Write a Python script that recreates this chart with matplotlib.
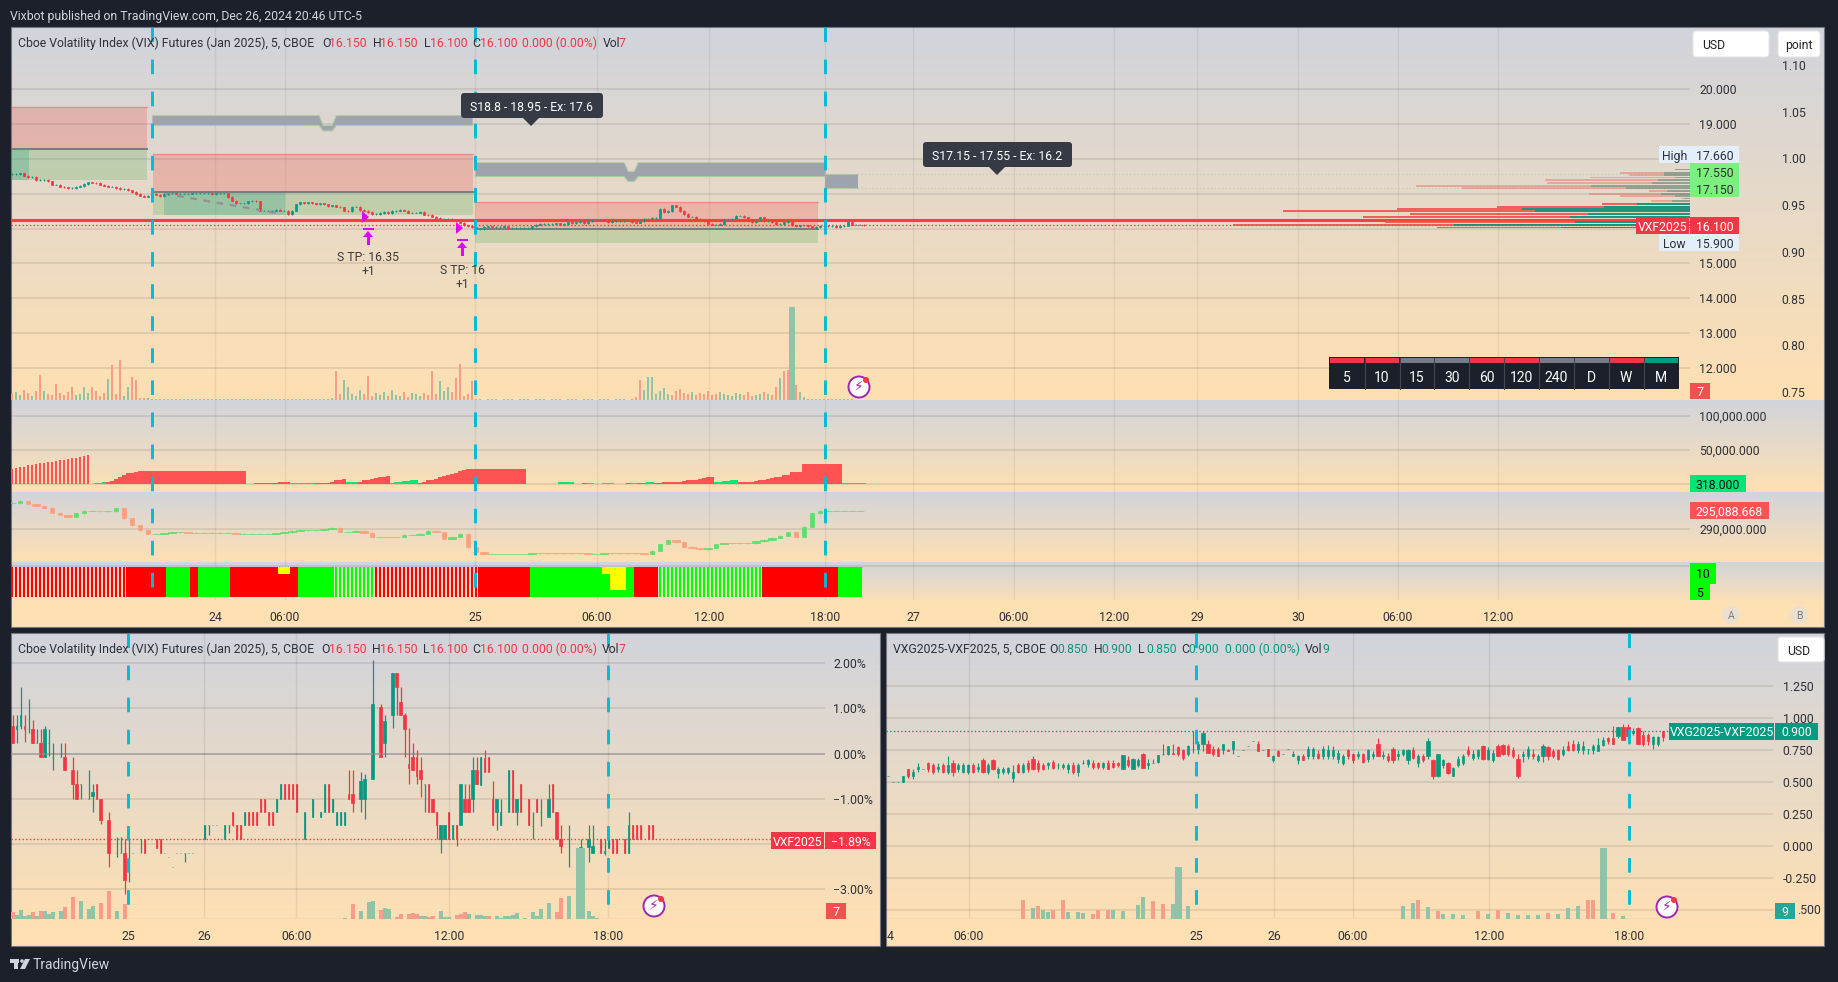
import matplotlib
matplotlib.use('Agg')
import matplotlib.pyplot as plt
import numpy as np
from matplotlib.colors import LinearSegmentedColormap
from matplotlib.patches import Rectangle, FancyBboxPatch, Polygon, Circle
from matplotlib.ticker import FuncFormatter

plt.rcParams['font.family'] = ['Roboto', 'DejaVu Sans']

W, H = 1838, 982
UP = '#089981'
DOWN = '#f23645'
DARK = '#1c202b'
TXT = '#2f3138'
CYAN = '#00bcd4'
VOL_UP = '#8fc4a8'
VOL_DOWN = '#f79e8a'

# main chart, one value every 4 px
main_close = [17.56,17.56,17.58,17.51,17.47,17.47,17.39,17.39,17.39,17.35,17.26,17.26,17.2,17.18,17.16,17.16,17.2,17.22,17.28,17.32,
    17.31,17.3,17.26,17.23,17.2,17.2,17.16,17.13,17.13,17.09,17.04,16.99,16.94,16.91,16.94,16.99,16.97,16.93,16.99,17.01,
    17.01,17.0,17.0,17.0,17.0,17.01,17.01,17.01,17.01,17.01,16.99,17.01,17.01,17.01,16.9,16.8,16.72,16.72,16.72,16.78,
    16.8,16.78,16.51,16.51,16.51,16.51,16.53,16.51,16.51,16.42,16.51,16.69,16.75,16.72,16.75,16.72,16.7,16.72,16.69,16.65,
    16.66,16.63,16.61,16.51,16.5,16.63,16.63,16.53,16.51,16.47,16.42,16.42,16.44,16.47,16.44,16.5,16.51,16.53,16.51,16.45,
    16.45,16.45,16.47,16.4,16.39,16.34,16.3,16.28,16.28,16.28,16.26,16.21,16.17,16.09,16.07,16.04,15.99,
    15.99,16.04,16.06,16.04,16.04,16.04,16.06,16.02,16.02,16.02,16.02,16.02,16.02,16.06,16.11,16.13,16.13,16.13,16.13,16.15,
    16.11,16.13,16.18,16.15,16.18,16.21,16.15,16.21,16.25,16.25,16.26,16.23,16.18,16.21,16.21,16.21,16.23,16.23,16.18,16.17,
    16.21,16.28,16.28,16.3,16.3,16.56,16.47,16.5,16.66,16.63,16.5,16.42,16.34,16.34,16.28,16.25,16.21,16.13,16.11,16.11,
    16.13,16.25,16.25,16.28,16.37,16.37,16.32,16.25,16.18,16.23,16.32,16.21,16.21,16.18,16.13,16.13,16.18,16.21,16.09,16.07,
    16.09,16.09,16.06,16.02,16.04,16.08,16.07,16.06,16.07,16.04,16.06,16.08,16.18,16.11,16.11,16.11,16.1]

main_volume = [60,80,50,100,70,40,90,250,90,60,50,160,70,50,80,130,50,60,130,70,130,90,40,70,210,350,60,400,40,130,230,200,20,20,20,
    8,10,6,8,10,6,8,6,10,8,6,8,10,6,8,10,8,6,8,10,8,6,8,6,10,8,12,6,8,10,6,10,8,12,6,8,14,6,10,8,12,8,6,10,14,20,
    290,60,200,130,60,40,100,60,240,40,70,50,80,40,100,50,40,80,30,70,60,40,70,50,290,60,190,90,130,80,220,360,40,60,190,
    6,8,5,6,8,6,5,8,6,8,5,6,8,6,5,8,6,8,5,6,8,6,5,8,6,8,5,6,8,6,5,8,6,8,5,6,8,6,5,10,30,
    200,100,230,230,60,90,120,60,50,90,110,70,60,80,50,70,60,90,50,60,80,60,50,40,70,60,50,80,40,50,60,80,60,50,130,220,290,300,930,150,80,30,
    10,10,12,8,10,8,10,12,10,8,6,7]
main_volume_red = [0,3,7,11,15,25,27,30,31,81,89,105,111,112,115,157,165,176,185]
main_volume_green = [24,29,83,84,87,107,109,158,159,160,163]

delta_bars = [23,24,25,26,28,28,30,31,31,32,32,34,35,36,37,38,39,40,42,43,-1,-2,-2,-3,4,5,8,10,14,16,17,18,19,19,19,
    19.6,19.6,19.6,19.6,19.6,19.6,19.6,19.6,19.6,19.6,19.6,19.6,19.6,19.6,19.6,19.6,19.6,19.6,19.6,19.6,19.6,19.6,19.6,19.6,
    .5,1,2,2,2,2,2,2,3,3,4,-2,-2,-2,-2,-2,-2,2,2,2,2,3,6,7,8,-3,-3,-3,4,6,7,8,9,10,11,12,-2,-3,-4,-5,-5,-6,-6,
    2,4,6,7,8,10,12,14,15,17,20,21,22.5,22.5,22.5,22.5,22.5,22.5,22.5,22.5,22.5,22.5,22.5,22.5,22.5,22.5,22.5,
    1,1,1,1,1,1,1,1,-3,-3,-3,-3,1,1,2,-2,-2,1,1,-2,-2,-2,1,1,1,2,-2,-2,2,2,-3,-3,2,2,3,3,3,3,4,5,6,6,7,8,9,10,11,
    -3,-4,-5,-5,-6,-6,3,3,4,4,5,6,7,8,9,10,11,13,13,18,18,18,30,30,30,30,30,30,30,30,30,30,-2,-2,-2,-2,-2,-2]

flow_close = [296.9,297.6,296.7,296.3,295.7,294.4,293.7,293.2,294.2,294.9,294.9,294.7,294.7,295.6,292.8,290.9,289.5,288.6,288.6,288.8,
    289,289,288.9,288.9,288.9,288.9,288.9,288.9,288.6,288.6,288.6,288.6,288.6,288.8,289,289.4,289.5,289.5,289.5,289.9,
    290.3,289.1,289.1,289.4,288.9,287.7,287.7,287.7,287.7,288.4,288.4,288.6,289.4,289.1,287.2,287.7,288.6,284.9,283.5,283.1,
    283.1,283.1,283.1,283.1,283.1,283.3,283.3,283.3,283.3,283.3,283.3,283.3,283.1,283.1,283.3,283.3,283.3,283.3,283.3,283.1,
    284,285.8,286.8,286.3,285.1,284.7,284.4,284.7,285.8,286,286,286,286,286.5,287,287.5,288.1,289.1,287.7,290.5,294.2,294.9,
    294.9,294.9,294.9,294.9,294.9]

# runs of the 10/5 state strip: kind, number of bars
state_runs = [('r',29),('R',10),('G',6),('R',2),('G',8),('R',12),('A',3),('R',2),('G',9),('g',10),('r',26),('R',13),
              ('G',18),('B',2),('C',4),('G',2),('R',6),('g',26),('R',19),('G',6)]

# volume profile: price, total, buy part
profile_price = [17.69,17.59,17.53,17.46,17.39,17.31,17.23,17.15,17.07,17.0,16.93,16.86,16.78,16.7,16.62,16.55,16.49,16.41,16.32,16.19,16.1,16.03]
profile_total = [15,70,61,100,145,143,274,228,41,101,70,9,39,88,193,293,407,280,327,305,457,253]
profile_buy = [15,26,26,15,32,38,99,64,23,29,15,6,18,53,86,168,155,102,120,115,236,129]

zone_red = [(-.35,33.75,18.27,19.49),(35.25,115.25,17.04,18.12),(115.75,201.5,15.98,16.75)]
zone_green = [(-.35,33.75,17.38,18.27),(35.25,115.25,16.38,17.04),(115.75,201.5,15.58,15.98)]
zone_green_dark = [(-.35,4.25,17.38,18.27),(38,68.25,16.38,17.04)]
grey_band_x = [[35,76.75,77.75,80,81,115],[115.75,153,154,155.5,156.5,203.25],[203.25,211.5]]
grey_band_top = [[19.24,19.24,18.95,18.95,19.24,19.24],[17.89,17.89,17.64,17.64,17.89,17.89],[17.55,17.55]]
grey_band_low = [[18.95,18.95,18.8,18.8,18.95,18.95],[17.49,17.49,17.35,17.35,17.49,17.49],[17.15,17.15]]

session_main = [35,115.75,203.25]
main_ticks = [50.75,68.25,115.75,146.25,174.25,203.25,225.25,250.5,275.5,296.25,321.5,346.5,371.5]
main_tick_labels = ['24','06:00','25','06:00','12:00','18:00','27','06:00','12:00','29','30','06:00','12:00']
timeframe_labels = ['5','10','15','30','60','120','240','D','W','M']
timeframe_state = [DOWN,DOWN,'#787b86','#787b86',DOWN,DOWN,'#787b86','#787b86',DOWN,UP]

# lower left: slot, open, high, low, close (percent)
left_bars = [(0,.6,.85,.23,.23),(1,.55,.85,.23,.6),(2,.6,1.47,.55,.85),(3,.6,.85,.25,.55),(4,.55,1.2,.45,.55),(5,.55,.75,.23,.23),
    (6,.23,.55,.23,.23),(7,.23,.55,-.07,-.07),(8,-.07,.6,-.07,.55),(9,.23,.55,-.05,.23),(10,-.07,.23,-.37,-.07),(12,-.07,.23,-.07,-.07),
    (13,-.07,.23,-.37,-.37),(15,-.37,-.07,-1,-.68),(16,-.68,-.37,-1,-1),(17,-.68,-.68,-1,-.68),(19,-1,-.37,-1,-1),(20,-.93,-.68,-1.29,-.85),
    (21,-.68,-.68,-1,-1),(22,-1,-1,-1.55,-1.47),(24,-1.47,-1.29,-2.5,-2.2),(26,-2.2,-1.85,-2.3,-2.2),(27,-2.2,-1.85,-2.2,-2.2),
    (28,-2.2,-1.89,-3.1,-2.8),(29,-1.89,-1.89,-2.85,-1.89),(30,-2.2,-2.2,-2.2,-2.2),(31,-1.89,-1.89,-1.89,-1.89),(32,-1.89,-1.89,-2.2,-1.89),
    (33,-1.89,-1.89,-2.2,-2.2),(34,-1.89,-1.89,-1.89,-1.89),(36,-1.89,-1.89,-2.1,-2.1),(37,-1.89,-1.89,-2.2,-2.2),(38,-2.2,-2.2,-2.2,-2.2),
    (39,-2.3,-2.3,-2.3,-2.3),(40,-2.5,-2.5,-2.5,-2.5),(41,-2.2,-2.2,-2.2,-2.2),(42,-2.2,-2.2,-2.2,-2.2),(43,-2.2,-2.2,-2.4,-2.2),(44,-2.2,-2.2,-2.2,-2.2),
    (45,-2.2,-2.2,-2.2,-2.2),(46,-1.89,-1.89,-1.89,-1.89),(47,-1.89,-1.89,-1.89,-1.89),(48,-1.89,-1.58,-1.89,-1.58),(49,-1.58,-1.58,-1.8,-1.58),
    (50,-1.58,-1.58,-1.58,-1.58),(51,-1.58,-1.58,-1.58,-1.58),(53,-1.89,-1.58,-1.89,-1.58),(54,-1.58,-1.58,-1.75,-1.58),(55,-1.29,-1.29,-1.6,-1.58),
    (56,-1.58,-1.58,-1.89,-1.89),(57,-1.58,-1.58,-1.89,-1.89),(58,-1.58,-1.29,-1.58,-1.29),(59,-1.29,-1.29,-1.58,-1.58),(60,-1.29,-1.29,-1.58,-1.58),
    (61,-1.29,-1.29,-1.58,-1.58),(62,-1,-1,-1.29,-1.29),(63,-1,-1,-1.3,-1.3),(64,-1.29,-1.29,-1.58,-1.58),(65,-1.3,-1.3,-1.58,-1.58),
    (66,-1.29,-1,-1.29,-1),(67,-1,-.68,-1,-.68),(68,-.68,-.68,-1,-1),(69,-.68,-.68,-1,-1),(70,-.68,-.68,-1,-1),(71,-.68,-.68,-1.3,-1.3),
    (73,-1.89,-1.29,-1.89,-1.29),(75,-1.4,-1,-1.4,-1),(77,-1.4,-1.29,-1.4,-1.29),(78,-1.29,-.68,-1.29,-.68),(79,-.68,-.68,-1.29,-1.29),
    (80,-1.3,-1,-1.3,-1),(81,-1.58,-1.29,-1.58,-1.29),(82,-1.58,-1.29,-1.58,-1.29),(83,-1.58,-1.29,-1.58,-1.29),(84,-.9,-.37,-1,-1),
    (85,-.9,-.37,-1.29,-1.1),(87,-1,-.4,-1.29,-.6),(88,-1,-.45,-1.45,-.56),(90,-.56,2.07,-.56,1.09),(92,1.03,1.09,-.07,-.07),
    (93,.23,.85,-.07,.73),(95,.85,1.78,.57,1.78),(96,1.78,1.78,.85,1.47),(97,1.15,1.47,.85,.85),(98,.85,.9,-.07,.54),(99,-.23,.57,-.68,-.32),
    (100,-.07,.23,-.37,-.37),(101,-.07,.07,-.68,-.5),(102,-.37,-.07,-.97,-.56),(103,-.68,-.68,-1.29,-.68),(104,-.68,-.68,-1.29,-1.29),
    (105,-1,-1,-1.29,-1.29),(106,-1.29,-1.29,-1.89,-1.58),(107,-1.89,-1.58,-2.2,-1.58),(108,-1.89,-1.58,-1.89,-1.58),(109,-1.29,-1.29,-1.89,-1.89),
    (110,-1.89,-1.58,-1.89,-1.58),(111,-1.58,-1.58,-2.04,-1.89),(112,-1.58,-.68,-1.58,-.68),(113,-1,-.68,-1.29,-1.29),(114,-1,-.68,-1.29,-1.29),
    (115,-1,-.07,-1.29,-.37),(116,-.37,-.07,-.68,-.68),(117,-.7,-.07,-.7,-.07),(118,-.1,.07,-.4,-.4),(119,-.07,-.07,-.4,-.4),(120,-1,-.6,-1.58,-1.58),
    (121,-1.29,-1,-1.7,-1),(122,-1.58,-1,-1.58,-1.29),(124,-1.3,-.37,-1.3,-.37),(125,-.37,-.37,-1.29,-1.29),(126,-1.29,-1,-1.58,-1),
    (127,-.68,-.68,-1.29,-1.29),(129,-1,-1,-1.58,-1.58),(130,-1.6,-1.29,-1.89,-1.6),(131,-1,-1,-1.29,-1.29),(132,-1.3,-1,-1.6,-1.3),
    (134,-1.4,-.68,-1.4,-1),(135,-.68,-.68,-1.29,-1.29),(136,-1.29,-1.29,-1.89,-1.89),(137,-1.89,-1.58,-2.2,-2.04),(139,-1.89,-1.58,-2.5,-1.89),
    (142,-2.2,-1.89,-2.8,-2.07),(144,-2.07,-1.58,-2.4,-1.89),(145,-2.2,-1.58,-2.2,-2.04),(147,-1.89,-1.89,-2.2,-2.2),(148,-2.2,-1.89,-2.25,-2.15),
    (149,-2.1,-1.89,-2.1,-1.89),(150,-1.89,-1.89,-2.2,-2.2),(151,-1.89,-1.89,-2.2,-2.2),(153,-1.89,-1.89,-2.2,-2.2),(154,-2.2,-1.29,-2.2,-1.58),
    (155,-1.58,-1.58,-1.89,-1.89),(156,-1.58,-1.58,-1.89,-1.89),(157,-1.58,-1.58,-1.89,-1.89),(159,-1.58,-1.58,-1.89,-1.89),(160,-1.58,-1.58,-1.89,-1.89)]
left_fat_slots = [0,5,7,8,13,15,16,20,22,24,28,85,87,88,90,92,93,95,96,97,98,100,102,105,107,108,112,113,114,115,116,121,126,134,136,137,142,144,145]

# slot, volume, rising
left_volume = [(0,67,0),(1,40,1),(2,90,1),(3,27,1),(4,43,1),(5,73,0),(6,33,1),(7,83,0),(8,83,1),(9,50,1),(10,73,1),(12,83,1),(13,123,0),(15,220,0),
    (17,180,1),(19,100,1),(20,133,1),(22,160,0),(24,280,0),(26,80,1),(28,150,0),
    (83,10,1),(85,150,0),(87,83,1),(89,170,1),(90,180,1),(92,90,0),(93,110,1),(94,100,1),(96,20,0),(97,50,0),(99,50,0),(100,60,0),(101,50,0),
    (102,30,1),(103,30,1),(104,20,0),(105,30,0),(107,80,1),(108,20,1),(109,20,1),(111,40,0),(112,50,0),(113,70,0),(114,50,1),(116,40,1),(117,40,1),
    (118,30,1),(119,30,0),(121,30,1),(122,10,1),(123,30,1),(124,30,1),(125,40,1),(126,60,1),(128,10,1),(130,70,1),(131,30,1),(132,100,1),(134,160,1),
    (136,70,0),(137,210,0),(139,230,1),(142,710,1),(144,80,1),(145,30,1),(146,10,1)]

# lower right: open, high, low, close
right_bars = [(.55,.55,.55,.55),(.5,.5,.5,.5),(.5,.5,.5,.5),(.5,.55,.5,.55),(.6,.6,.53,.55),(.55,.6,.52,.58),(.6,.65,.58,.62),(.6,.6,.6,.6),(.65,.66,.58,.6),(.63,.65,.56,.58),
    (.6,.65,.58,.62),(.63,.65,.57,.58),(.58,.7,.56,.63),(.65,.67,.55,.58),(.6,.65,.58,.63),(.58,.65,.57,.63),(.58,.64,.56,.63),(.63,.65,.57,.58),(.6,.65,.58,.62),(.67,.69,.57,.58),
    (.58,.65,.56,.63),(.67,.68,.59,.6),(.57,.62,.53,.6),(.58,.62,.56,.6),(.58,.62,.56,.61),(.53,.63,.5,.58),(.63,.65,.57,.58),(.58,.65,.57,.63),(.65,.67,.58,.6),(.68,.7,.59,.6),
    (.65,.67,.58,.6),(.63,.65,.59,.6),(.63,.66,.6,.65),(.66,.67,.6,.61),(.63,.65,.6,.63),(.62,.65,.6,.63),(.6,.65,.57,.63),(.63,.66,.56,.58),(.58,.65,.55,.63),(.65,.67,.64,.65),
    (.64,.68,.62,.67),(.65,.67,.6,.62),(.65,.66,.6,.62),(.62,.66,.6,.65),(.65,.67,.6,.6),(.65,.67,.61,.62),(.65,.66,.62,.63),(.6,.71,.6,.71),(.67,.7,.62,.63),(.6,.69,.6,.68),
    (.63,.69,.62,.67),(.72,.73,.61,.61),(.63,.68,.6,.65),(.65,.68,.65,.65),(.66,.71,.65,.71),(.72,.8,.71,.72),(.72,.78,.71,.78),(.73,.8,.72,.72),(.77,.78,.7,.72),(.75,.76,.67,.69),
    (.72,.79,.7,.78),(.76,.9,.73,.76),(.76,.82,.72,.8),(.8,.9,.74,.88),(.8,.83,.73,.73),(.76,.78,.7,.72),(.76,.77,.7,.7),(.75,.8,.72,.8),(.75,.76,.74,.74),(.76,.82,.72,.82),
    (.7,.7,.7,.7),(.75,.75,.75,.75),(.78,.78,.78,.78),(.82,.82,.82,.82),(.8,.82,.74,.74),(.75,.75,.75,.75),(.76,.76,.7,.7),(.67,.71,.66,.7),(.74,.75,.7,.7),(.72,.72,.72,.72),
    (.76,.76,.76,.76),(.7,.74,.7,.72),(.67,.71,.64,.7),(.7,.72,.67,.67),(.7,.78,.68,.76),(.7,.77,.68,.76),
    (.72,.75,.68,.69),(.7,.78,.68,.76),(.7,.79,.68,.75),(.7,.78,.68,.75),(.68,.75,.65,.73),(.65,.72,.63,.7),(.75,.76,.68,.7),(.72,.73,.65,.67),(.7,.74,.68,.72),(.72,.73,.65,.66),
    (.68,.76,.66,.75),(.7,.74,.68,.72),(.8,.84,.7,.7),(.7,.74,.68,.71),(.7,.73,.66,.67),(.76,.77,.65,.67),(.7,.75,.67,.72),(.72,.76,.7,.75),(.67,.76,.64,.75),(.75,.77,.68,.69),
    (.65,.72,.62,.7),(.7,.72,.66,.67),(.7,.84,.68,.82),(.67,.68,.52,.55),(.55,.72,.54,.72),(.63,.68,.61,.67),(.65,.66,.56,.57),(.55,.62,.55,.61),(.63,.7,.62,.68),(.65,.72,.63,.7),
    (.75,.78,.7,.72),(.69,.75,.67,.72),(.7,.76,.68,.75),(.78,.79,.67,.68),(.68,.77,.67,.75),(.67,.75,.66,.73),(.78,.8,.7,.7),(.79,.8,.71,.72),(.78,.8,.7,.72),(.75,.77,.69,.7),
    (.68,.72,.53,.55),(.7,.74,.66,.72),(.7,.78,.68,.76),(.72,.76,.68,.7),(.67,.72,.66,.7),(.7,.8,.66,.78),(.77,.78,.67,.7),(.74,.76,.69,.7),(.75,.76,.67,.68),(.72,.78,.7,.75),
    (.78,.82,.74,.75),(.8,.83,.74,.75),(.75,.82,.73,.8),(.75,.82,.72,.78),(.76,.76,.72,.76),(.75,.8,.72,.78),(.74,.84,.74,.79),(.79,.85,.78,.83),(.84,.85,.8,.82),(.84,.94,.8,.8),
    (.86,.93,.84,.93),(.93,.95,.83,.83),(.93,.95,.84,.86),(.88,.92,.87,.9),(.92,.93,.8,.8),(.87,.9,.78,.8),(.87,.88,.79,.82),(.8,.86,.76,.85),(.8,.86,.78,.85),(.9,.9,.82,.85)]

# slot, volume, rising
right_volume = [(27,190,0),(29,110,1),(30,130,0),(31,90,1),(32,70,1),(33,90,0),(35,190,0),(36,70,1),(38,70,1),(39,60,1),(41,50,0),(42,90,0),(44,90,0),(45,90,1),(47,80,1),
    (50,140,1),(51,220,1),(53,180,0),(55,150,0),(57,150,1),(58,520,1),(60,130,1),
    (103,130,1),(105,160,1),(106,190,0),(108,120,1),(110,80,0),(111,50,1),(113,50,1),(115,40,1),(118,80,0),(120,50,1),(122,90,0),(124,60,1),(126,40,1),(128,40,1),(130,40,1),(132,60,0),(134,50,1),
    (136,110,1),(138,130,1),(140,190,0),(141,190,0),(143,710,1),(145,60,0),(147,30,1)]

left_ticks = [28.9,47.9,70.9,109.1,148.9]
left_tick_labels = ['25','26','06:00','12:00','18:00']
right_ticks = [.4,16.2,61.6,77.2,93,120.2,148.2]
right_tick_labels = ['4','06:00','25','26','06:00','12:00','18:00']
left_grid_ticks = [47.9,70.9,109.1,148.9]
right_grid_ticks = [16.2,77.2,93,120.2]

fig = plt.figure(figsize=(W / 100, H / 100), dpi=100, facecolor=DARK)
grad = LinearSegmentedColormap.from_list('pane', ['#d1d4dc', '#ffe0b2'])
PT = 8.8


def pane(x0, y0, x1, y1, z=1):
    ax = fig.add_axes([x0 / W, 1 - y1 / H, (x1 - x0) / W, (y1 - y0) / H], zorder=z)
    ax.set_facecolor('none')
    for s in ax.spines.values():
        s.set_visible(False)
    ax.tick_params(length=0, labelsize=PT, labelcolor=TXT)
    return ax


def gradient(x0, y0, x1, y1):
    ax = pane(x0, y0, x1, y1, z=0)
    ax.imshow(np.linspace(0, 1, 256).reshape(-1, 1), aspect='auto', cmap=grad, vmin=0, vmax=1)
    ax.axis('off')


def price_axis(ax, ticks, fmt, pad=6.5):
    ax.yaxis.tick_right()
    ax.set_yticks(ticks)
    ax.yaxis.set_major_formatter(FuncFormatter(fmt))
    ax.tick_params(axis='y', pad=pad)
    ax.set_xticks([])
    ax.grid(True, axis='y', color='#000000', alpha=0.09, lw=1.3)
    ax.set_axisbelow(True)


def candles(ax, x, o, h, l, c, width, up=UP, down=DOWN, lw=1.0):
    x, o, h, l, c = map(np.asarray, (x, o, h, l, c))
    col = np.where(c >= o, up, down)
    ax.vlines(x, l, h, colors=col, lw=lw)
    ax.bar(x, c - o, bottom=o, width=width, color=col, edgecolor=col, linewidth=0.5)


def hide_pct(v, _):
    if abs(v + 2) < .01:
        return ''
    return f'{v:.2f}%'.replace('-', '\u2212')


# backgrounds
gradient(11, 27, 1824, 400)
gradient(11, 400, 1824, 492)
gradient(11, 492, 1824, 562)
gradient(11, 562, 1824, 604)
gradient(11, 633, 880, 930)
gradient(886, 633, 1824, 930)
base = pane(0, 0, W, H, z=0.5)
base.set_xlim(0, W)
base.set_ylim(H, 0)
base.axis('off')
base.add_patch(Rectangle((11, 604), 1813, 23, color='#ffe0b2', lw=0))
base.add_patch(Rectangle((11, 930), 869, 16, color='#ffe0b2', lw=0))
base.add_patch(Rectangle((886, 930), 938, 16, color='#ffe0b2', lw=0))
for r in [(11, 27, 1813, 600), (11, 633, 869, 313), (886, 633, 938, 313)]:
    base.add_patch(Rectangle(r[:2], r[2], r[3], fill=False, ec='#73767f', lw=0.8))

# main pane
XL = (-.25, 419.5)
slots = np.arange(len(main_close))
ax = pane(11, 27, 1690, 400, z=2)
ax.set_xlim(XL)
ax.set_ylim(11.09, 21.77)
price_axis(ax, [12, 13, 14, 15, 16, 17, 18, 19, 20], lambda v, _: '' if v in (16, 17, 18) else f'{v:.3f}')
for x0, x1, lo, hi in zone_red:
    ax.fill_between([x0, x1], lo, hi, color='#ef5350', alpha=0.27, lw=0)
    ax.plot([x0, x1], [hi, hi], color='#ef5350', alpha=0.4, lw=1)
    ax.plot([x0, x1], [lo, lo], color='#73767f', lw=1.3)
for x0, x1, lo, hi in zone_green:
    ax.fill_between([x0, x1], lo, hi, color='#4caf50', alpha=0.24, lw=0)
for x0, x1, lo, hi in zone_green_dark:
    ax.fill_between([x0, x1], lo, hi, color='#089981', alpha=0.22, lw=0)
for bx, bt, bl in zip(grey_band_x, grey_band_top, grey_band_low):
    ax.fill_between(bx, bl, bt, color='#9ea3ac', lw=0)
    ax.plot(bx, bt, color='#a9cf9f', lw=0.6)
    ax.plot(bx, bl, color='#a9cf9f', lw=0.8)
ax.plot([38, 67.5], [17.0, 16.42], color='#8f9196', lw=1.6, ls=(0, (3, 3)))
ax.hlines([17.55, 17.15], 203, XL[1], color='#a9cf9f', lw=1, ls=':', alpha=.6)
ax.axhline(16.23, xmax=0.968, color='#f44336', lw=2.2)
ax.axhline(16.1, xmax=0.968, color=DOWN, lw=1, ls=':')
op = np.r_[main_close[0], main_close[:-1]]
cl = np.array(main_close)
candles(ax, slots, op, np.maximum(op, cl) + .02, np.minimum(op, cl) - .02, cl, 0.6, lw=0.7)

# volume profile, anchored on the price scale
vp = pane(11, 27, 1690, 400, z=2.1)
vp.set_xlim(1679, 0)
vp.set_ylim(ax.get_ylim())
vp.axis('off')
for p, tot, buy in zip(profile_price, profile_total, profile_buy):
    a = 0.38 if p > 16.7 else 0.9
    vp.barh(p, tot, height=0.055, color='#ef5350', alpha=a, lw=0)
    vp.barh(p, buy, height=0.055, color=UP, alpha=a, lw=0)

# main volume and the left hand scale
mv = pane(11, 27, 1690, 400, z=2.2)
mv.set_xlim(XL)
mv.set_ylim(0, 3730)
mv.axis('off')
nv = min(len(main_volume), len(slots))
vc = [VOL_UP if cl[i] >= op[i] else VOL_DOWN for i in range(nv)]
for i in main_volume_red:
    vc[i] = VOL_DOWN
for i in main_volume_green:
    vc[i] = VOL_UP
# the late session spike and the two bars ahead of it
for i, v in enumerate(main_volume[:nv]):
    if v == 930:
        vc[i] = VOL_UP
        vc[i - 1] = VOL_DOWN
        vc[i - 2] = VOL_DOWN
        vc[i - 3] = VOL_UP
vw = [1.5 if v > 800 else 0.72 for v in main_volume[:nv]]
mv.bar(slots[:nv], main_volume[:nv], width=vw, color=vc, lw=0)

tw = pane(11, 27, 1690, 400, z=2.05)
tw.set_xlim(XL)
tw.set_ylim(.7414, 1.1407)
price_axis(tw, [.75, .8, .85, .9, .95, 1, 1.05, 1.1], lambda v, _: f'{v:.2f}', pad=66)
tw.grid(False)

# delta histogram
dp = pane(11, 400, 1690, 492, z=2)
dp.set_xlim(XL)
dp.set_ylim(-11.2, 123.3)
price_axis(dp, [0, 50, 100], lambda v, _: f'{v * 1000:,.3f}' if v else '')
d = np.array(delta_bars)
ds = np.arange(len(d))
dc = np.where(d > 0, '#ff5252', '#00e676')
dw = np.where((ds < 20), 0.45, 0.8)
dp.bar(ds, np.abs(d), width=dw, color=dc, lw=0)

# flow candles
fp = pane(11, 492, 1690, 562, z=2)
fp.set_xlim(XL)
fp.set_ylim(280.9, 300)
price_axis(fp, [290], lambda v, _: f'{v * 1000:,.3f}')
fc = np.array(flow_close)
fo = np.r_[fc[0], fc[:-1]]
fx = np.arange(len(fc)) * 2
fw = np.where(np.abs(fc - fo) < .6, 2.0, 0.9)
candles(fp, fx, fo, np.maximum(fo, fc) + .1, np.minimum(fo, fc) - .1, fc, fw, up='#5be06a', down='#ffa07a', lw=.7)

# state strip
sp = pane(11, 562, 1690, 600, z=2)
sp.set_xlim(XL)
sp.set_ylim(2.8, 13.95)
sp.set_yticks([])
sp.set_xticks([])
sp.axhline(12.8, color='#000000', alpha=.09, lw=1.3)
pos = 0
for kind, count in state_runs:
    for k in range(count):
        if kind in 'rg':
            col = '#ff0000' if kind == 'r' else '#00ff00'
            sp.bar(pos + k, 8.8, bottom=3.8, width=0.55, color=col, lw=0)
        else:
            col = {'R': '#ff0000', 'G': '#00ff00', 'A': '#ff0000', 'B': '#00ff00', 'C': '#00ff00'}[kind]
            sp.bar(pos + k, 8.8, bottom=3.8, width=1.02, color=col, lw=0)
            if kind in 'AB':
                sp.bar(pos + k, 2.1, bottom=10.5, width=1.02, color='#ffff00', lw=0)
            if kind == 'C':
                sp.bar(pos + k, 7, bottom=5.6, width=1.02, color='#ffff00', lw=0)
    pos += count

# time scale, session lines and the vertical grid over all main panes
tp = pane(11, 27, 1690, 600, z=1.5)
tp.set_xlim(XL)
tp.set_ylim(0, 1)
tp.set_yticks([])
tp.set_xticks(main_ticks)
tp.set_xticklabels(main_tick_labels)
tp.tick_params(axis='x', pad=8)
tp.grid(True, axis='x', color='#000000', alpha=0.06, lw=1)
sl = pane(11, 27, 1690, 600, z=3)
sl.set_xlim(XL)
sl.set_ylim(573, 0)
sl.axis('off')
sl.vlines(session_main, 0, 573, color=CYAN, lw=2.1, ls=(0, (5, 6)))

# lower left pane
la = pane(11, 633, 825, 918, z=2)
la.set_xlim(-.4, 203.1)
la.set_ylim(-3.64, 2.67)
price_axis(la, [-3, -2, -1, 0, 1, 2], hide_pct, pad=6)
la.axhline(0, color='#9a9a9a', lw=1.2, alpha=.8)
la.axhline(-1.89, color=DOWN, lw=1, ls=':')
ls_, lo_, lh_, ll_, lc_ = zip(*left_bars)
lw_ = [0.9 if s in left_fat_slots else 0.3 for s in ls_]
candles(la, ls_, lo_, lh_, ll_, lc_, lw_, lw=0.9)
la.set_xticks(left_ticks)
la.set_xticklabels(left_tick_labels)
la.tick_params(axis='x', pad=9)
for g in left_grid_ticks:
    la.axvline(g, color='#000000', alpha=.07, lw=1)
lv = pane(11, 633, 825, 919, z=2.1)
lv.set_xlim(la.get_xlim())
lv.set_ylim(0, 2860)
lv.axis('off')
s_, v_, u_ = zip(*left_volume)
lv.bar(s_, v_, width=[2.2 if v > 700 else 1.0 for v in v_], color=[VOL_UP if u else VOL_DOWN for u in u_], lw=0)
lv.hlines(5, 29, 82, color=VOL_UP, lw=0.9)
lv.hlines(5, 146, 160, color=VOL_DOWN, lw=0.9)
sl2 = pane(11, 633, 825, 912, z=3)
sl2.set_xlim(la.get_xlim())
sl2.set_ylim(279, 0)
sl2.axis('off')
sl2.vlines([28.9, 148.9], 0, 279, color=CYAN, lw=2.1, ls=(0, (5, 6)))

# lower right pane
ra = pane(886, 633, 1773, 918, z=2)
ra.set_xlim(-.4, 177)
ra.set_ylim(1 - (918 - 718) / 128, 1 + (718 - 633) / 128)
price_axis(ra, [-.25, 0, .25, .5, .75, 1, 1.25], lambda v, _: f'{v:.3f}', pad=7)
ra.axhline(-.5, color='#000000', alpha=.09, lw=1.3)
ra.axhline(.9, xmax=.887, color=UP, lw=1, ls=':')
ro_, rh_, rl_, rc_ = zip(*right_bars)
rw_ = [0.8 if abs(c - o) >= .07 else 0.4 for o, c in zip(ro_, rc_)]
candles(ra, np.arange(len(right_bars)), ro_, rh_, rl_, rc_, rw_, lw=0.8)
ra.set_xticks(right_ticks)
ra.set_xticklabels(right_tick_labels)
ra.tick_params(axis='x', pad=9)
for g in right_grid_ticks:
    ra.axvline(g, color='#000000', alpha=.07, lw=1)
rv = pane(886, 633, 1773, 919, z=2.1)
rv.set_xlim(ra.get_xlim())
rv.set_ylim(0, 2860)
rv.axis('off')
s_, v_, u_ = zip(*right_volume)
rv.bar(s_, v_, width=[1.4 if v > 500 else 0.8 for v in v_], color=[VOL_UP if u else VOL_DOWN for u in u_], lw=0)
rv.hlines(5, 0, 155, color=VOL_UP, lw=0.9)
sl3 = pane(886, 633, 1773, 912, z=3)
sl3.set_xlim(ra.get_xlim())
sl3.set_ylim(279, 0)
sl3.axis('off')
sl3.vlines([61.6, 148.2], 0, 279, color=CYAN, lw=2.1, ls=(0, (5, 6)))

# chrome on top, in figure pixels
ov = pane(0, 0, W, H, z=5)
ov.set_xlim(0, W)
ov.set_ylim(H, 0)
ov.axis('off')


def label(x, y, s, color=TXT, ha='left', size=PT, **kw):
    ov.text(x, y, s, color=color, ha=ha, va='center_baseline', fontsize=size, **kw)


def box(x0, y0, x1, y1, color, s=None, tc='white', ha='center', size=PT):
    ov.add_patch(Rectangle((x0, y0), x1 - x0, y1 - y0, color=color, lw=0))
    if s:
        label((x0 + x1) / 2 if ha == 'center' else x0 + 8, (y0 + y1) / 2, s, tc, ha, size)


def rbox(x0, y0, x1, y1, color, ec='none', rad=3):
    ov.add_patch(FancyBboxPatch((x0 + rad, y0 + rad), x1 - x0 - 2 * rad, y1 - y0 - 2 * rad,
                                boxstyle=f'round,pad={rad},rounding_size={rad}', fc=color, ec=ec, lw=0.8))


def header(y, items):
    for x, s, c in items:
        label(x, y, s, c)


red = '#f23645'
header(42, [(18, 'Cboe Volatility Index (VIX) Futures (Jan 2025), 5, CBOE', TXT), (322, 'O', TXT), (329, '16.150', red), (373, 'H', TXT), (380, '16.150', red),
            (424, 'L', TXT), (430, '16.100', red), (472, 'C', TXT), (480, '16.100', red), (522, '0.000 (0.00%)', red), (603, 'Vol', TXT), (619, '7', red)])
header(648, [(18, 'Cboe Volatility Index (VIX) Futures (Jan 2025), 5, CBOE', TXT), (321, 'O', TXT), (329, '16.150', red), (372, 'H', TXT), (380, '16.150', red),
             (423, 'L', TXT), (430, '16.100', red), (472, 'C', TXT), (480, '16.100', red), (522, '0.000 (0.00%)', red), (602, 'Vol', TXT), (619, '7', red)])
header(648, [(893, 'VXG2025-VXF2025, 5, CBOE', TXT), (1049, 'O', TXT), (1057, '0.850', UP), (1094, 'H', TXT), (1101, '0.900', UP), (1138, 'L', TXT), (1146, '0.850', UP),
             (1181, 'C', TXT), (1188, '0.900', UP), (1225, '0.000 (0.00%)', UP), (1305, 'Vol', TXT), (1322, '9', UP)])
label(10, 15, 'Vixbot published on TradingView.com, Dec 26, 2024 20:46 UTC-5', '#d1d4dc')
label(33, 964, 'TradingView', '#d1d4dc', size=10)
ov.add_patch(Rectangle((10, 959), 9, 3.5, color='#d1d4dc', lw=0))
ov.add_patch(Rectangle((14, 959), 4, 10, color='#d1d4dc', lw=0))
ov.add_patch(Circle((22, 961), 1.8, color='#d1d4dc', lw=0))
ov.add_patch(Polygon([(25, 959), (30, 959), (25, 969), (20, 969)], color='#d1d4dc', lw=0))

rbox(1693, 31, 1769, 57, 'white', '#e5e5e5')
label(1702, 44, 'USD', '#222222')
rbox(1778, 31, 1820, 57, 'white', '#e5e5e5')
label(1799, 44, 'point', '#222222', 'center')
rbox(1778, 637, 1824, 662, 'white', '#e5e5e5')
label(1787, 650, 'USD', '#222222')

box(1659, 146, 1690, 163, '#e3effd', 'High', TXT)
box(1690, 146, 1739, 163, '#e3effd', '17.660', TXT)
box(1690, 163, 1739, 180, '#7cf07c', '17.550', TXT)
box(1690, 180, 1739, 197, '#7cf07c', '17.150', TXT)
box(1636, 217, 1689, 234, DOWN, 'VXF2025')
box(1690, 217, 1739, 234, DOWN, '16.100')
box(1659, 234, 1690, 251, '#e3effd', 'Low', TXT)
box(1690, 234, 1739, 251, '#e3effd', '15.900', TXT)
box(1690, 383, 1710, 399, '#ef5350', '7')
box(1690, 475, 1746, 492, '#00e676', '318.000', '#111111')
box(1690, 502, 1769, 519, '#ff5252', '295,088.668')
box(1690, 563, 1716, 584, '#00ff00', '10', '#111111')
box(1690, 584, 1710, 600, '#00ff00', '5', '#111111')
box(771, 832, 824, 849, DOWN, 'VXF2025')
box(825, 832, 876, 849, DOWN, '\u22121.89%')
box(826, 903, 846, 919, '#ef5350', '7')
box(1669, 723, 1774, 740, UP, 'VXG2025-VXF2025')
box(1775, 723, 1818, 740, UP, '0.900')
box(1775, 903, 1795, 919, '#26a69a', '9')
label(1797, 909, '.500')

# timeframe table
box(1329, 357, 1679, 389, DARK)
for i, (s, c) in enumerate(zip(timeframe_labels, timeframe_state)):
    x0 = 1330 + i * 34.9
    box(x0, 358, x0 + 34.3, 362.5, c)
    label(x0 + 17, 376, s, 'white', 'center', 10)
    if i:
        ov.plot([x0 - .3, x0 - .3], [358, 389], color='#434651', lw=0.8)

# tooltips
for (x0, y0, x1, y1, tipx, tipy, s) in [(461, 93, 603, 118, 531, 126, 'S18.8 - 18.95 - Ex: 17.6'), (923, 142, 1072, 167, 997, 175, 'S17.15 - 17.55 - Ex: 16.2')]:
    rbox(x0, y0, x1, y1, '#363a45')
    ov.add_patch(Polygon([(tipx - 8, y1), (tipx + 8, y1), (tipx, tipy)], color='#363a45', lw=0))
    label((x0 + x1) / 2, (y0 + y1) / 2, s, 'white', 'center')

# take profit markers
for ax_, ay, tx, ty, s, dy in [(368, 228, 364, 217, 'S TP: 16.35', 28), (462, 239, 458, 228, 'S TP: 16', 30)]:
    ov.add_patch(Rectangle((ax_ - 5.5, ay), 11, 2, color='#e000ff', lw=0))
    ov.add_patch(Rectangle((ax_ - 1.5, ay + 5), 3, 12, color='#e000ff', lw=0))
    ov.add_patch(Polygon([(ax_ - 5, ay + 9), (ax_ + 5, ay + 9), (ax_, ay + 3)], color='#e000ff', lw=0))
    ov.add_patch(Polygon([(tx - 2, ty - 6), (tx - 2, ty + 6), (tx + 5, ty)], color='#e000ff', lw=0))
    label(ax_, ay + dy, s, '#3a3a3a', 'center')
    label(ax_, ay + dy + 14, '+1', '#3a3a3a', 'center')

# alert icons
for cx, cy in [(859, 387), (654, 906), (1667, 907)]:
    ov.add_patch(Circle((cx, cy), 10.5, fc='white', ec='#9c27b0', lw=1.4))
    ov.text(cx, cy, '\u26a1', color='#9c27b0', ha='center', va='center', fontsize=10, family='DejaVu Sans')
    ov.add_patch(Circle((cx + 7, cy - 7), 3, color='#f23645', lw=0))

# A / B buttons
for cx, s in [(1731, 'A'), (1799, 'B')]:
    ov.add_patch(Circle((cx, 615), 9, color='#e9e0cf', lw=0))
    label(cx, 615, s, '#787b86', 'center', 7.5)

fig.savefig('out.png', dpi=100, facecolor=DARK)
